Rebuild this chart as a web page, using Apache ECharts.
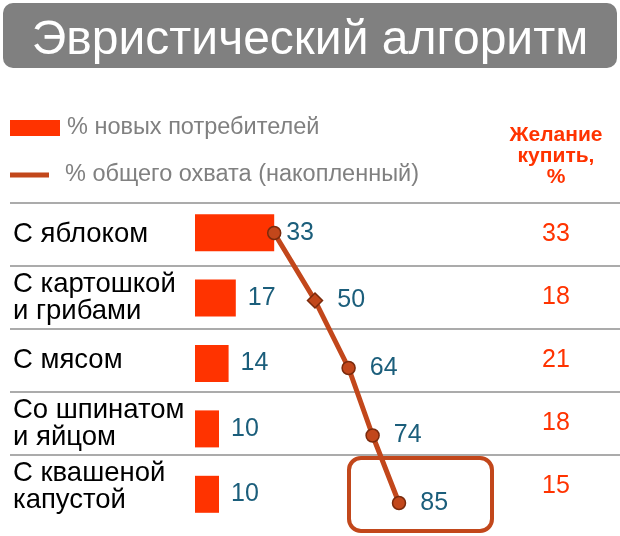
<!DOCTYPE html>
<html>
<head>
<meta charset="utf-8">
<script src="https://cdn.jsdelivr.net/npm/echarts@6/dist/echarts.min.js"></script>
<style>
  html, body { margin: 0; padding: 0; background: #fff; }
  #main { width: 620px; height: 536px; }
</style>
</head>
<body>
<div id="main"></div>
<script>
// data
var categories = ['С яблоком', 'С картошкой\nи грибами', 'С мясом', 'Со шпинатом\nи яйцом', 'С квашеной\nкапустой'];
var newConsumers = [33, 17, 14, 10, 10]; // % новых потребителей
var totalReach = [33, 50, 64, 74, 85]; // % общего охвата (накопленный)
var wantToBuy = [33, 18, 21, 18, 15]; // Желание купить, %

var FONT = '"Liberation Sans", Arial, sans-serif';
var RED = '#FF3300';
var BROWN = '#C2471B';

var chart = echarts.init(document.getElementById('main'));

var option = {
  animation: false,
  title: {
    text: 'Эвристический алгоритм',
    left: 'center',
    top: 12,
    textStyle: { color: '#fff', fontSize: 48, fontWeight: 'normal', fontFamily: FONT }
  },
  legend: [
    {
      data: ['% новых потребителей'],
      left: 10, top: 116, padding: 0,
      icon: 'rect', itemWidth: 50, itemHeight: 16,
      selectedMode: false,
      itemStyle: { borderWidth: 0 },
      textStyle: { color: '#808080', fontSize: 23.5, fontFamily: FONT, padding: [0, 0, 0, 2] }
    },
    {
      data: ['% общего охвата (накопленный)'],
      left: 10, top: 163, padding: 0,
      icon: 'rect', itemWidth: 39, itemHeight: 5,
      selectedMode: false,
      itemStyle: { borderWidth: 0 },
      textStyle: { color: '#808080', fontSize: 23.5, fontFamily: FONT, padding: [0, 0, 0, 11] }
    }
  ],
  graphic: [
    {
      type: 'rect', z: -1,
      shape: { x: 3, y: 3, width: 614, height: 65, r: 10 },
      style: { fill: '#808080' }
    },
    {
      type: 'text',
      style: {
        text: 'Желание\nкупить,\n%', x: 556, y: 156,
        textAlign: 'center', textVerticalAlign: 'middle',
        font: 'bold 21px ' + FONT, lineHeight: 21, fill: RED
      }
    },
    {
      type: 'rect',
      shape: { x: 349, y: 458, width: 143, height: 73, r: 12 },
      style: { fill: 'none', stroke: BROWN, lineWidth: 4 }
    }
  ],
  grid: [
    { left: 195, width: 240, top: 200, height: 327 },   // bars
    { left: 195, width: 240, top: 233, height: 270 },   // line
    { left: 10, right: 0, top: 203, height: 252 },      // row separators
    { left: 10, width: 480, top: 203, height: 315 }     // row labels
  ],
  xAxis: [
    { gridIndex: 0, type: 'value', min: 0, max: 100, show: false },
    { gridIndex: 1, type: 'value', min: 0, max: 100, show: false },
    { gridIndex: 2, type: 'value', min: 0, max: 1, show: false },
    { gridIndex: 3, type: 'value', min: 0, max: 1, show: false }
  ],
  yAxis: [
    { gridIndex: 0, type: 'category', data: categories, inverse: true, show: false },
    { gridIndex: 1, type: 'category', data: categories, inverse: true, boundaryGap: false, show: false },
    {
      gridIndex: 2, type: 'value', min: 0, max: 4, interval: 1, inverse: true,
      axisLine: { show: false }, axisTick: { show: false }, axisLabel: { show: false },
      splitLine: { show: true, lineStyle: { color: '#ABABAB', width: 2 } }
    },
    {
      gridIndex: 3, type: 'category', data: categories, inverse: true, position: 'left',
      axisLine: { show: false }, axisTick: { show: false }, splitLine: { show: false },
      axisLabel: {
        align: 'left', margin: -3, color: '#000', fontSize: 27.5, lineHeight: 27, fontFamily: FONT
      }
    },
    {
      gridIndex: 3, type: 'category', data: categories, inverse: true, position: 'right',
      axisLine: { show: false }, axisTick: { show: false }, splitLine: { show: false },
      axisLabel: {
        align: 'center', margin: 66, color: RED, fontSize: 25, fontFamily: FONT,
        padding: [7, 0, 0, 0],
        formatter: function (v, i) { return wantToBuy[i]; }
      }
    }
  ],
  series: [
    {
      name: '% новых потребителей',
      type: 'bar', xAxisIndex: 0, yAxisIndex: 0,
      data: newConsumers, barWidth: 37,
      itemStyle: { color: RED },
      label: {
        show: true, position: 'right', distance: 12,
        color: '#1B5E7B', fontSize: 25, fontFamily: FONT
      }
    },
    {
      name: '% общего охвата (накопленный)',
      type: 'line', xAxisIndex: 1, yAxisIndex: 1,
      data: totalReach.map(function (v, i) {
        return {
          value: v,
          symbol: i === 1 ? 'diamond' : 'circle',
          symbolSize: i === 1 ? 15 : 13,
          label: { show: i > 0 }
        };
      }),
      lineStyle: { color: BROWN, width: 5 },
      itemStyle: { color: BROWN, borderColor: '#7A2A0C', borderWidth: 1.5 },
      label: {
        position: 'right', distance: 14,
        color: '#1B5E7B', fontSize: 25, fontFamily: FONT
      },
      z: 5
    }
  ]
};

chart.setOption(option);
</script>
</body>
</html>
